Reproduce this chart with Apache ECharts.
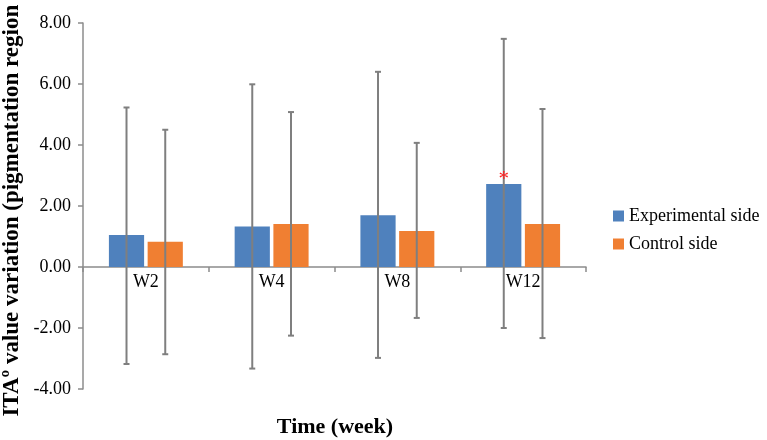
<!DOCTYPE html>
<html>
<head>
<meta charset="utf-8">
<script src="https://cdn.jsdelivr.net/npm/echarts@6/dist/echarts.min.js"></script>
<style>
html,body{margin:0;padding:0;background:#fff;}
#chart{width:767px;height:440px;}
</style>
</head>
<body>
<div id="chart"></div>
<script>
const categories = ['W2', 'W4', 'W8', 'W12'];
const seriesNames = ['Experimental side', 'Control side'];
const experimentalMean = [1.05, 1.33, 1.70, 2.72];
const experimentalLow = [-3.18, -3.33, -2.98, -2.00];
const experimentalHigh = [5.23, 5.99, 6.40, 7.48];
const controlMean = [0.83, 1.41, 1.18, 1.41];
const controlLow = [-2.86, -2.25, -1.67, -2.33];
const controlHigh = [4.50, 5.08, 4.07, 5.18];
const experimentalSig = ['', '', '', '*'];
const yTicks = { min: -4, max: 8, interval: 2 };
const xTitle = 'Time (week)';
const yTitle = 'ITAº value variation (pigmentation region )';

const BAR_W = 0.28, BAR_GAP = 0.10;
const FONT = '"Liberation Serif", "Times New Roman", serif';
const AXIS_COLOR = '#8c8c8c';
const ERR_COLOR = '#7f7f7f';

function errData(low, high) {
  return categories.map((c, i) => [i, low[i], high[i]]);
}

function makeErrRender(side, sig, means) {
  return function (params, api) {
    const idx = api.value(0);
    const band = api.size([1, 0])[0];
    const bw = band * BAR_W;
    const off = side * (bw + bw * BAR_GAP) / 2;
    const lowP = api.coord([idx, api.value(1)]);
    const highP = api.coord([idx, api.value(2)]);
    const x = lowP[0] + off;
    const style = { stroke: ERR_COLOR, lineWidth: 2 };
    const children = [
      { type: 'line', shape: { x1: x, y1: lowP[1], x2: x, y2: highP[1] }, style: style },
      { type: 'line', shape: { x1: x - 3, y1: highP[1], x2: x + 3, y2: highP[1] }, style: style },
      { type: 'line', shape: { x1: x - 3, y1: lowP[1], x2: x + 3, y2: lowP[1] }, style: style }
    ];
    if (sig && sig[params.dataIndex]) {
      const top = api.coord([idx, means[params.dataIndex]]);
      children.push({
        type: 'text',
        style: { text: sig[params.dataIndex], x: x, y: top[1] - 5, fill: '#ff2020',
                 font: '21px ' + FONT, textAlign: 'center', textVerticalAlign: 'middle' },
        z2: 10
      });
    }
    return { type: 'group', children: children };
  };
}

function renderCatLabel(params, api) {
  const p = api.coord([api.value(0), 0]);
  return {
    type: 'text',
    style: { text: categories[params.dataIndex], x: p[0], y: p[1] + 6,
             font: '18px ' + FONT, fill: '#000', textAlign: 'center', textVerticalAlign: 'top' }
  };
}

const chart = echarts.init(document.getElementById('chart'), null, { renderer: 'canvas' });
chart.setOption({
  animation: false,
  textStyle: { fontFamily: FONT },
  grid: { left: 83, right: 181, top: 23, bottom: 51, containLabel: false, outerBoundsMode: 'none' },
  legend: {
    orient: 'vertical', left: 613, top: 207, padding: 0,
    itemWidth: 11, itemHeight: 11, itemGap: 10,
    data: seriesNames,
    textStyle: { fontFamily: FONT, fontSize: 18, color: '#000' },
    icon: 'rect'
  },
  graphic: [
    { type: 'text', x: 335, y: 427, silent: true,
      style: { text: xTitle, font: 'bold 22px ' + FONT, fill: '#000',
               textAlign: 'center', textVerticalAlign: 'middle' } },
    { type: 'text', x: 12, y: 204, rotation: Math.PI / 2, silent: true,
      style: { text: yTitle, font: 'bold 23px ' + FONT, fill: '#000',
               textAlign: 'center', textVerticalAlign: 'middle' } }
  ],
  xAxis: {
    type: 'category', data: categories,
    axisLine: { onZero: true, lineStyle: { color: AXIS_COLOR, width: 1.5 } },
    axisTick: { show: true, length: 5, lineStyle: { color: AXIS_COLOR, width: 1.5 } },
    axisLabel: { show: false },
    splitLine: { show: false }
  },
  yAxis: {
    type: 'value', min: yTicks.min, max: yTicks.max, interval: yTicks.interval,
    axisLine: { show: true, lineStyle: { color: AXIS_COLOR, width: 1.5 } },
    axisTick: { show: true, length: 5, lineStyle: { color: AXIS_COLOR, width: 1.5 } },
    axisLabel: { fontFamily: FONT, fontSize: 18, color: '#000', margin: 12,
                 formatter: v => v.toFixed(2) },
    splitLine: { show: false }
  },
  series: [
    { name: seriesNames[0], type: 'bar', data: experimentalMean,
      barWidth: (BAR_W * 100) + '%', barGap: (BAR_GAP * 100) + '%',
      itemStyle: { color: '#4f81bd' } },
    { name: seriesNames[1], type: 'bar', data: controlMean,
      barWidth: (BAR_W * 100) + '%', barGap: (BAR_GAP * 100) + '%',
      itemStyle: { color: '#f07f32' } },
    { type: 'custom', data: errData(experimentalLow, experimentalHigh), z: 5,
      renderItem: makeErrRender(-1, experimentalSig, experimentalMean), silent: true },
    { type: 'custom', data: errData(controlLow, controlHigh), z: 5,
      renderItem: makeErrRender(1, null, controlMean), silent: true },
    { type: 'custom', data: categories.map((c, i) => [i, 0]), z: 6,
      renderItem: renderCatLabel, silent: true }
  ]
});
</script>
</body>
</html>
